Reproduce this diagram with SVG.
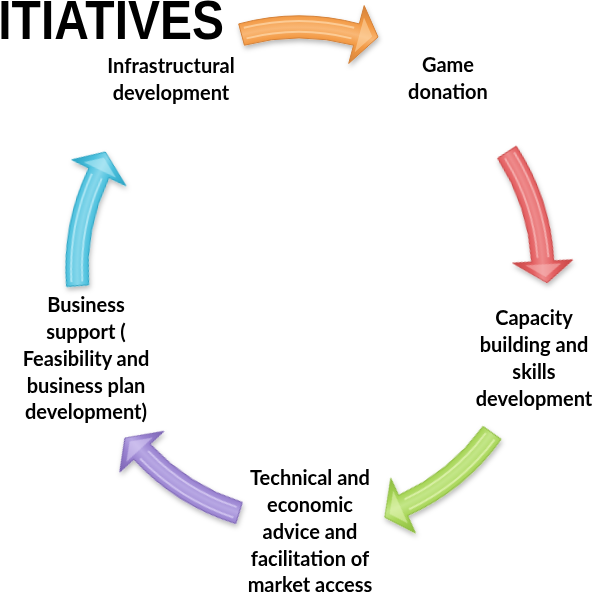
<svg xmlns="http://www.w3.org/2000/svg" xmlns:xlink="http://www.w3.org/1999/xlink" width="607" height="596" viewBox="0 0 607 596">
  <style>
    .title { font-family: "Liberation Sans", Arial, sans-serif; font-weight: bold; font-size: 48px; fill: #000; }
    .label { font-family: Lato, "Open Sans", sans-serif; font-weight: bold; font-size: 20px; fill: #000; text-anchor: middle; }
    .shape { stroke-width: 1; stroke-linejoin: round; }
    .hl { fill: none; stroke-width: 2; stroke-opacity: 0.75; }
    .facet { fill-opacity: 0.55; stroke: none; }
    .orange .shape { fill: url(#g-orange); stroke: #D4823A; }
    .orange .hl { stroke: #FDD7A8; }
    .orange .facet { fill: #FDD7A8; }
    .red .shape { fill: url(#g-red); stroke: #C84646; }
    .red .hl { stroke: #F8BDBD; }
    .red .facet { fill: #F8BDBD; }
    .green .shape { fill: url(#g-green); stroke: #8CBB3F; }
    .green .hl { stroke: #E5F5B8; }
    .green .facet { fill: #E5F5B8; }
    .purple .shape { fill: url(#g-purple); stroke: #7A62B2; }
    .purple .hl { stroke: #DCD2F5; }
    .purple .facet { fill: #DCD2F5; }
    .cyan .shape { fill: url(#g-cyan); stroke: #2AA3C3; }
    .cyan .hl { stroke: #C2EEF8; }
    .cyan .facet { fill: #C2EEF8; }
  </style>
  <defs>
    <!-- curved arrow drawn on a circle of radius 222 around the local origin, pointing clockwise -->
    <path id="arrow-shape" d="M -60.3 -225.1 A 233 233 0 0 1 60.3 -225.1 L 65.2 -243.4 L 79 -212 L 49.7 -185.5 L 54.6 -203.8 A 211 211 0 0 0 -54.6 -203.8 Z"/>
    <path id="arrow-hl" d="M -52.5 -210.6 A 217 217 0 0 1 52.5 -210.6 M -55.2 -221.2 A 228 228 0 0 1 55.2 -221.2"/>
    <path id="arrow-facet" d="M 65 -231.5 L 73.2 -212.6 L 55.7 -196.7 Z"/>

    <radialGradient id="g-orange" gradientUnits="userSpaceOnUse" cx="0" cy="0" r="252">
      <stop offset="0.76" stop-color="#D4823A"/>
      <stop offset="0.84" stop-color="#F39A45"/>
      <stop offset="0.88" stop-color="#F9B775"/>
      <stop offset="0.925" stop-color="#F39A45"/>
      <stop offset="1" stop-color="#D4823A"/>
    </radialGradient>
    <radialGradient id="g-red" gradientUnits="userSpaceOnUse" cx="0" cy="0" r="252">
      <stop offset="0.76" stop-color="#C84646"/>
      <stop offset="0.84" stop-color="#E35E60"/>
      <stop offset="0.88" stop-color="#EE8A8B"/>
      <stop offset="0.925" stop-color="#E35E60"/>
      <stop offset="1" stop-color="#C84646"/>
    </radialGradient>
    <radialGradient id="g-green" gradientUnits="userSpaceOnUse" cx="0" cy="0" r="252">
      <stop offset="0.76" stop-color="#8CBB3F"/>
      <stop offset="0.84" stop-color="#A7D557"/>
      <stop offset="0.88" stop-color="#C3E688"/>
      <stop offset="0.925" stop-color="#A7D557"/>
      <stop offset="1" stop-color="#8CBB3F"/>
    </radialGradient>
    <radialGradient id="g-purple" gradientUnits="userSpaceOnUse" cx="0" cy="0" r="252">
      <stop offset="0.76" stop-color="#7A62B2"/>
      <stop offset="0.84" stop-color="#9A83D1"/>
      <stop offset="0.88" stop-color="#B7A7E3"/>
      <stop offset="0.925" stop-color="#9A83D1"/>
      <stop offset="1" stop-color="#7A62B2"/>
    </radialGradient>
    <radialGradient id="g-cyan" gradientUnits="userSpaceOnUse" cx="0" cy="0" r="252">
      <stop offset="0.76" stop-color="#2AA3C3"/>
      <stop offset="0.84" stop-color="#4BC0DD"/>
      <stop offset="0.88" stop-color="#86D7EB"/>
      <stop offset="0.925" stop-color="#4BC0DD"/>
      <stop offset="1" stop-color="#2AA3C3"/>
    </radialGradient>

    <filter id="soft-shadow" x="-30%" y="-30%" width="160%" height="160%">
      <feDropShadow dx="1" dy="3" stdDeviation="2.5" flood-color="#000" flood-opacity="0.28"/>
    </filter>
  </defs>

  <rect width="607" height="596" fill="#fff"/>

  <!-- slide title, running off the top and left edges -->
  <text class="title" transform="translate(224 39) scale(1 1.15)" text-anchor="end">INITIATIVES</text>

  <!-- connectors: curved arrows around the cycle -->
  <g id="connectors" filter="url(#soft-shadow)">
    <g id="arrow-1" class="orange" transform="translate(299 249)">
      <use href="#arrow-shape" class="shape"/>
      <use href="#arrow-hl" class="hl"/>
      <use href="#arrow-facet" class="facet"/>
    </g>
    <g id="arrow-2" class="red" transform="translate(321 273.5) rotate(71.9)">
      <use href="#arrow-shape" class="shape"/>
      <use href="#arrow-hl" class="hl"/>
      <use href="#arrow-facet" class="facet"/>
    </g>
    <g id="arrow-3" class="green" transform="translate(312 303) rotate(140.8)">
      <use href="#arrow-shape" class="shape"/>
      <use href="#arrow-hl" class="hl"/>
      <use href="#arrow-facet" class="facet"/>
    </g>
    <g id="arrow-4" class="purple" transform="translate(305 301) rotate(-147.7)">
      <use href="#arrow-shape" class="shape"/>
      <use href="#arrow-hl" class="hl"/>
      <use href="#arrow-facet" class="facet"/>
    </g>
    <g id="arrow-5" class="cyan" transform="translate(299 269) rotate(-79.3)">
      <use href="#arrow-shape" class="shape"/>
      <use href="#arrow-hl" class="hl"/>
      <use href="#arrow-facet" class="facet"/>
    </g>
  </g>

  <!-- nodes -->
  <g id="node-infrastructure">
    <text class="label" x="171" y="72.5">Infrastructural</text>
    <text class="label" x="171" y="99.5">development</text>
  </g>
  <g id="node-game">
    <text class="label" x="448" y="71.5">Game</text>
    <text class="label" x="448" y="98.5">donation</text>
  </g>
  <g id="node-capacity">
    <text class="label" x="534" y="325">Capacity</text>
    <text class="label" x="534" y="352">building and</text>
    <text class="label" x="534" y="379">skills</text>
    <text class="label" x="534" y="406">development</text>
  </g>
  <g id="node-technical">
    <text class="label" x="310" y="485">Technical and</text>
    <text class="label" x="310" y="512">economic</text>
    <text class="label" x="310" y="539">advice and</text>
    <text class="label" x="310" y="566">facilitation of</text>
    <text class="label" x="310" y="592">market access</text>
  </g>
  <g id="node-business">
    <text class="label" x="86" y="311.5">Business</text>
    <text class="label" x="86" y="338.5">support (</text>
    <text class="label" x="86" y="365.5">Feasibility and</text>
    <text class="label" x="86" y="392.5">business plan</text>
    <text class="label" x="86" y="419">development)</text>
  </g>
</svg>
